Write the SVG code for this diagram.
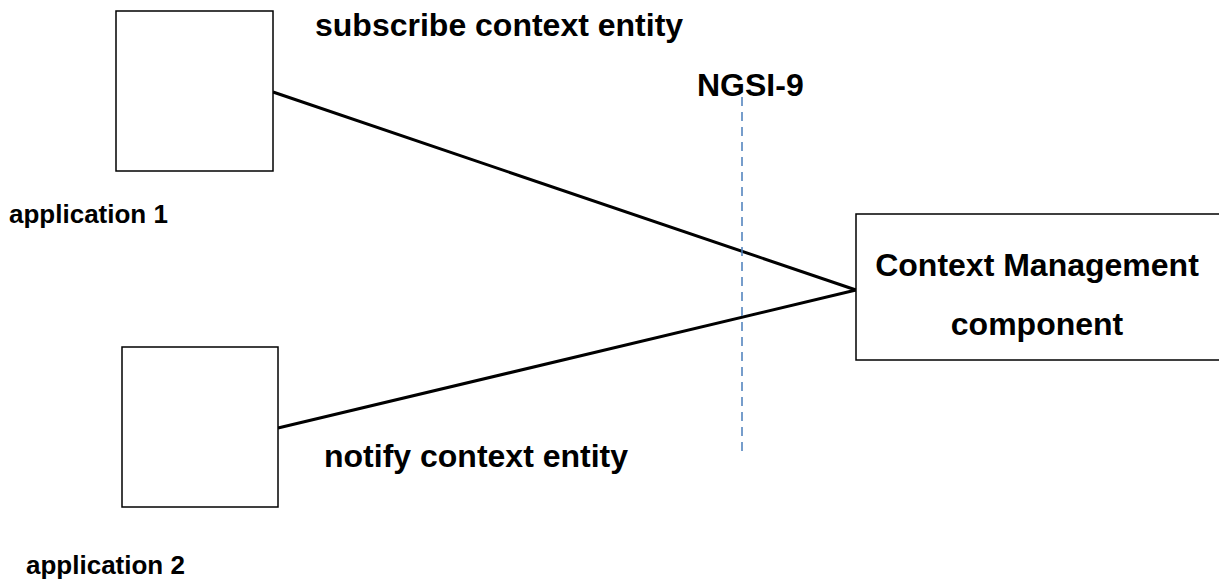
<svg xmlns="http://www.w3.org/2000/svg" width="1219" height="583" viewBox="0 0 1219 583">
<style>
.box{fill:#fff;stroke:#000;stroke-width:1.5}
.t{font-family:"Liberation Sans",Arial,sans-serif;font-weight:bold;fill:#000}
.big{font-size:32px}
.sm{font-size:26px}
.conn{stroke:#000;stroke-width:3;fill:none}
</style>
<rect width="1219" height="583" fill="#fff"/>
<g id="connectors">
<line class="conn" x1="273" y1="92" x2="856" y2="290"/>
<line class="conn" x1="278" y1="428" x2="856" y2="290"/>
<line x1="742" y1="97" x2="742" y2="455" stroke="#4a7ebb" stroke-width="1.5" stroke-dasharray="9,6"/>
</g>
<g id="app1">
<rect class="box" x="116" y="11" width="157" height="160"/>
<text class="t sm" x="9" y="223">application 1</text>
</g>
<g id="app2">
<rect class="box" x="122" y="347" width="156" height="160"/>
<text class="t sm" x="26" y="574">application 2</text>
</g>
<g id="cm">
<rect class="box" x="856" y="214" width="370" height="146"/>
<text class="t big" x="1037" y="276" text-anchor="middle">Context Management</text>
<text class="t big" x="1037" y="335" text-anchor="middle">component</text>
</g>
<g id="labels">
<text class="t big" x="315" y="36">subscribe context entity</text>
<text class="t big" x="697" y="96">NGSI-9</text>
<text class="t big" x="324" y="467">notify context entity</text>
</g>
</svg>
